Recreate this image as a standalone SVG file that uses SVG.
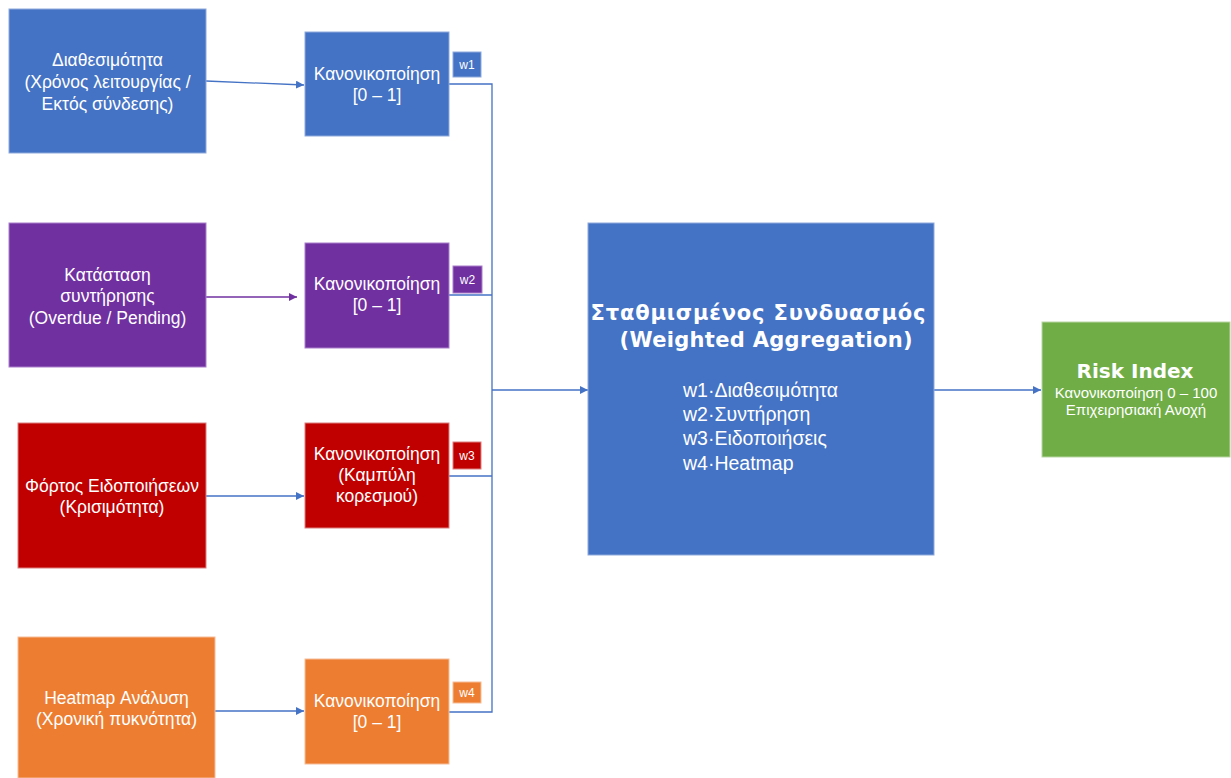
<svg xmlns="http://www.w3.org/2000/svg" width="1231" height="778" viewBox="0 0 1231 778">
  <defs>
    <style>
      .t { font-family: "Liberation Sans", Arial, sans-serif; fill: #ffffff; text-anchor: middle; }
      .src { font-size: 17.5px; }
      .norm { font-size: 17.5px; }
      .badge { font-size: 12px; }
      .heavy { font-family: "DejaVu Sans", "Liberation Sans", sans-serif; font-weight: bold; fill: #ffffff; text-anchor: middle; }
      .list { font-family: "Liberation Sans", Arial, sans-serif; font-size: 19.5px; fill: #ffffff; }
      .blue { fill: #4472C4; stroke: #8FAADC; stroke-width: 1; }
      .purple { fill: #7030A0; stroke: #A97FCB; stroke-width: 1; }
      .red { fill: #C00000; stroke: #DC7F7F; stroke-width: 1; }
      .orange { fill: #ED7D31; stroke: #F6BE98; stroke-width: 1; }
      .green { fill: #70AD47; stroke: #B7D6A3; stroke-width: 1; }
      .wire { fill: none; stroke: #4472C4; stroke-width: 1.3; }
      .wire-p { fill: none; stroke: #7030A0; stroke-width: 1.3; }
    </style>
    <marker id="arrowBlue" viewBox="0 0 10 10" refX="10" refY="5" markerWidth="8" markerHeight="8" markerUnits="userSpaceOnUse" orient="auto">
      <path d="M0,0 L10,5 L0,10 z" fill="#4472C4"/>
    </marker>
    <marker id="arrowPurple" viewBox="0 0 10 10" refX="10" refY="5" markerWidth="8" markerHeight="8" markerUnits="userSpaceOnUse" orient="auto">
      <path d="M0,0 L10,5 L0,10 z" fill="#7030A0"/>
    </marker>
  </defs>

  <rect width="1231" height="778" fill="#ffffff"/>

  <!-- connectors -->
  <g id="connectors">
    <path class="wire" d="M206,81 L304,85" marker-end="url(#arrowBlue)"/>
    <path class="wire-p" d="M206,297 L297,297" marker-end="url(#arrowPurple)"/>
    <path class="wire" d="M206,496 L304,496" marker-end="url(#arrowBlue)"/>
    <path class="wire" d="M215,711 L304,711" marker-end="url(#arrowBlue)"/>
    <!-- collector bus -->
    <path class="wire" d="M449,84 L492,84 L492,712 L449,712"/>
    <path class="wire" d="M449,295 L492,295"/>
    <path class="wire" d="M449,476 L492,476"/>
    <path class="wire" d="M492,390 L588,390" marker-end="url(#arrowBlue)"/>
    <path class="wire" d="M934,390 L1041,390" marker-end="url(#arrowBlue)"/>
  </g>

  <!-- input: availability -->
  <g id="src-availability">
    <rect class="blue" x="9" y="9" width="197" height="144"/>
    <text class="t src" x="107.5" y="66">Διαθεσιμότητα</text>
    <text class="t src" x="107.5" y="88">(Χρόνος λειτουργίας /</text>
    <text class="t src" x="107.5" y="110">Εκτός σύνδεσης)</text>
  </g>
  <g id="norm-availability">
    <rect class="blue" x="305" y="32" width="144" height="104"/>
    <text class="t norm" x="377" y="80">Κανονικοποίηση</text>
    <text class="t norm" x="377" y="101">[0 – 1]</text>
  </g>
  <g id="w1">
    <rect class="blue" x="453" y="52" width="28" height="25"/>
    <text class="t badge" x="467" y="69">w1</text>
  </g>

  <!-- input: maintenance -->
  <g id="src-maintenance">
    <rect class="purple" x="9" y="223" width="197" height="144"/>
    <text class="t src" x="107.5" y="281">Κατάσταση</text>
    <text class="t src" x="107.5" y="302">συντήρησης</text>
    <text class="t src" x="107.5" y="324">(Overdue / Pending)</text>
  </g>
  <g id="norm-maintenance">
    <rect class="purple" x="305" y="243" width="144" height="105"/>
    <text class="t norm" x="377" y="290">Κανονικοποίηση</text>
    <text class="t norm" x="377" y="311">[0 – 1]</text>
  </g>
  <g id="w2">
    <rect class="purple" x="453" y="266" width="29" height="27"/>
    <text class="t badge" x="467.5" y="284">w2</text>
  </g>

  <!-- input: alerts -->
  <g id="src-alerts">
    <rect class="red" x="18" y="423" width="188" height="145"/>
    <text class="t src" x="112" y="492">Φόρτος Ειδοποιήσεων</text>
    <text class="t src" x="112" y="513">(Κρισιμότητα)</text>
  </g>
  <g id="norm-alerts">
    <rect class="red" x="305" y="423" width="144" height="105"/>
    <text class="t norm" x="377" y="460">Κανονικοποίηση</text>
    <text class="t norm" x="377" y="481">(Καμπύλη</text>
    <text class="t norm" x="377" y="502">κορεσμού)</text>
  </g>
  <g id="w3">
    <rect class="red" x="453" y="442" width="28" height="27"/>
    <text class="t badge" x="467" y="460">w3</text>
  </g>

  <!-- input: heatmap -->
  <g id="src-heatmap">
    <rect class="orange" x="18" y="637" width="197" height="141"/>
    <text class="t src" x="116.5" y="704">Heatmap Ανάλυση</text>
    <text class="t src" x="116.5" y="725">(Χρονική πυκνότητα)</text>
  </g>
  <g id="norm-heatmap">
    <rect class="orange" x="305" y="659" width="144" height="105"/>
    <text class="t norm" x="377" y="707">Κανονικοποίηση</text>
    <text class="t norm" x="377" y="728">[0 – 1]</text>
  </g>
  <g id="w4">
    <rect class="orange" x="453" y="682" width="28" height="21"/>
    <text class="t badge" x="467" y="697">w4</text>
  </g>

  <!-- weighted aggregation -->
  <g id="aggregation">
    <rect class="blue" x="588" y="223" width="346" height="332"/>
    <text class="heavy" x="758" y="320" font-size="21" textLength="335">Σταθμισμένος Συνδυασμός</text>
    <text class="heavy" x="766" y="347" font-size="21" textLength="293">(Weighted Aggregation)</text>
    <text class="list" x="683" y="397">w1·Διαθεσιμότητα</text>
    <text class="list" x="683" y="421">w2·Συντήρηση</text>
    <text class="list" x="683" y="445">w3·Ειδοποιήσεις</text>
    <text class="list" x="683" y="470">w4·Heatmap</text>
  </g>

  <!-- result -->
  <g id="risk-index">
    <rect class="green" x="1042" y="322" width="188" height="135"/>
    <text class="heavy" x="1135" y="378" font-size="20">Risk Index</text>
    <text class="t" x="1136" y="398" font-size="15">Κανονικοποίηση 0 – 100</text>
    <text class="t" x="1136" y="415" font-size="15">Επιχειρησιακή Ανοχή</text>
  </g>
</svg>
